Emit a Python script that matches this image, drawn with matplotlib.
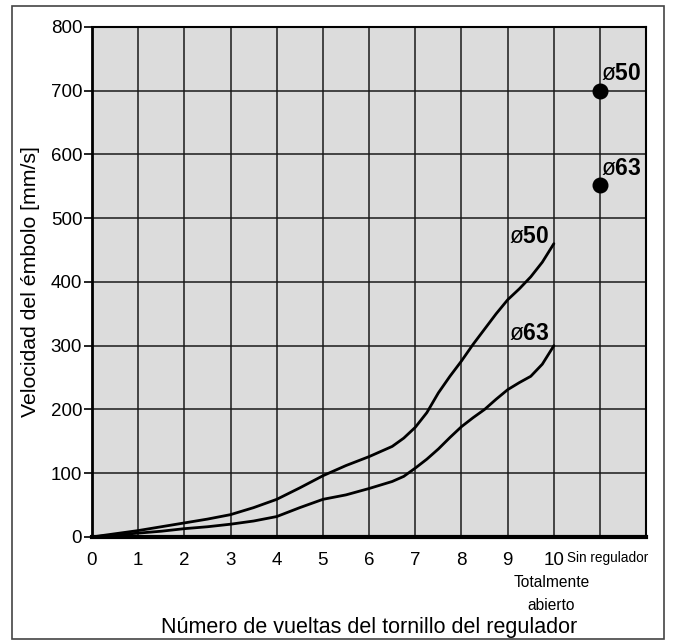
import numpy as np
import matplotlib
matplotlib.use("Agg")
import matplotlib.pyplot as plt
from matplotlib.patches import Rectangle

plt.rcParams['font.family'] = ['Liberation Sans', 'DejaVu Sans']
plt.rcParams['mathtext.fontset'] = 'custom'
plt.rcParams['mathtext.rm'] = 'Liberation Sans'
plt.rcParams['mathtext.bf'] = 'Liberation Sans:bold'

# vueltas del tornillo
turns = [0, 0.5, 1, 1.5, 2, 2.5, 3, 3.5, 4, 4.5, 5, 5.5, 6, 6.5, 6.75,
         7, 7.25, 7.5, 7.75, 8, 8.25, 8.5, 8.75, 9, 9.25, 9.5, 9.75, 10]
# velocidad del embolo [mm/s]
v50 = [0, 5, 10, 16, 22, 28, 35, 46, 59, 77, 96, 112, 126, 142, 155,
       172, 195, 226, 252, 276, 302, 326, 350, 372, 389, 408, 431, 460]
v63 = [0, 3, 6, 9, 13, 16, 20, 25, 32, 46, 59, 66, 76, 87, 95,
       108, 122, 138, 156, 173, 187, 200, 216, 231, 242, 252, 271, 300]

# sin regulador
free_x = 11
free_v50 = 700
free_v63 = 552

xticks = list(range(11))
yticks = list(range(0, 801, 100))

fig = plt.figure(figsize=(6.76, 6.4), dpi=100)
ax = fig.add_axes([0.136, 0.161, 0.820, 0.797])
ax.set_facecolor('#dcdcdc')

ax.plot(turns, v50, color='black', lw=2, solid_capstyle='round')
ax.plot(turns, v63, color='black', lw=2, solid_capstyle='round')
ax.plot([free_x, free_x], [free_v50, free_v63], 'o', color='black', ms=10.5, zorder=5)

lab_kw = dict(fontsize=16.5, va='baseline', ha='left')
ax.text(9.02, 461, r'ø$\mathbf{50}$', **lab_kw)
ax.text(9.02, 309, r'ø$\mathbf{63}$', **lab_kw)
ax.text(11.03, 717, r'ø$\mathbf{50}$', **lab_kw)
ax.text(11.03, 568, r'ø$\mathbf{63}$', **lab_kw)

ax.set_xlim(0, 12)
ax.set_ylim(0, 800)
ax.set_xticks(list(range(13)))
ax.set_xticklabels([str(t) for t in xticks] + ['', ''])
ax.set_yticks(yticks)
ax.tick_params(axis='x', length=0, labelsize=13.5, pad=11)
ax.tick_params(axis='y', length=6, width=1.2, labelsize=13.5, pad=1)
ax.grid(True, color='#1a1a1a', lw=1.1)
ax.set_axisbelow(True)
for s in ax.spines.values():
    s.set_linewidth(1.5)
ax.spines['left'].set_linewidth(2)
ax.spines['bottom'].set_linewidth(3)

ax.text(10.28, -39, 'Sin regulador', fontsize=9.8, ha='left', va='baseline')
ax.text(9.95, -78, 'Totalmente', fontsize=11.2, ha='center', va='baseline')
ax.text(9.95, -114, 'abierto', fontsize=11.2, ha='center', va='baseline')

ax.set_ylabel('Velocidad del émbolo [mm/s]', fontsize=15.3)
ax.yaxis.label.set_va('center')
ax.yaxis.set_label_coords(-0.110, 0.5)
ax.set_xlabel('Número de vueltas del tornillo del regulador', fontsize=15.5)
ax.xaxis.label.set_va('baseline')
ax.xaxis.set_label_coords(0.5, -0.188)

fig.patches.append(Rectangle((0.018, 0.002), 0.964, 0.988, transform=fig.transFigure,
                             fill=False, edgecolor='#444444', lw=1.2))

fig.savefig('out.png', dpi=100)
